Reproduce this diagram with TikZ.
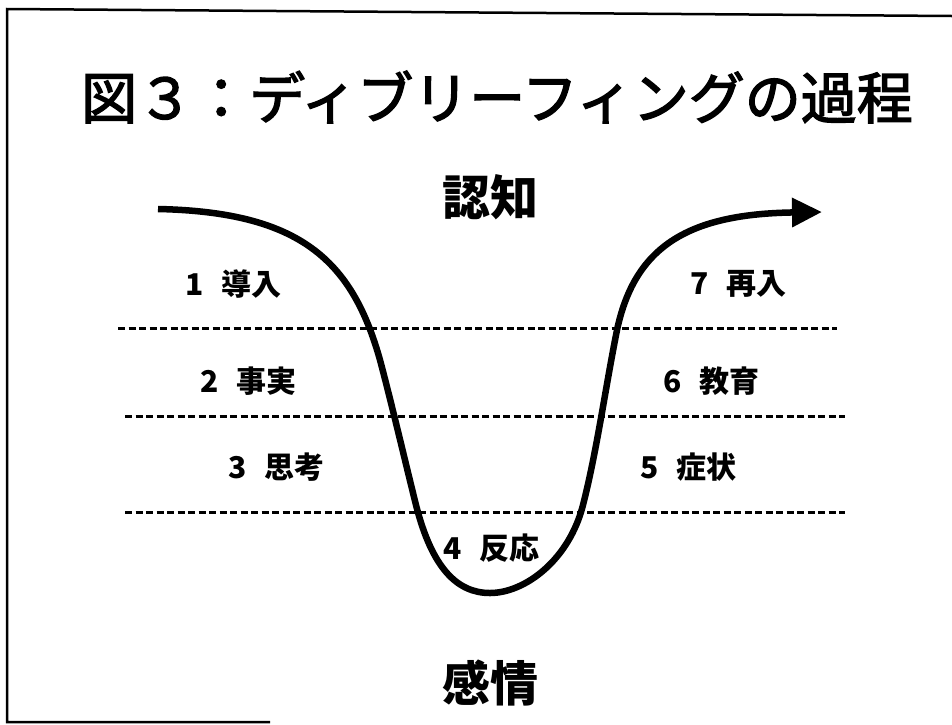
\documentclass[tikz,border=0pt]{standalone}
\usepackage{fontspec}
\newfontfamily\jp{Noto Sans CJK JP}
\newfontfamily\jpt{Noto Sans CJK JP}[FakeBold=2.5]
\usetikzlibrary{arrows.meta}
\tikzset{
  frameline/.style={line width=2.5pt, black},
  sepline/.style={line width=3pt, dash pattern=on 7pt off 3.5pt},
  flow/.style={line width=6.5pt, -{Triangle[length=30pt,width=28pt]}},
  stage/.style={inner sep=0pt, anchor=west, font=\jp\fontsize{30}{30}\selectfont\bfseries},
  axis/.style={inner sep=0pt, font=\jp\fontsize{48}{48}\selectfont\bfseries},
  titletext/.style={inner sep=0pt, font=\jpt\fontsize{56}{56}\selectfont}
}
\newcommand{\stg}[2]{#1\hspace{0.6em}#2}
\begin{document}
\begin{tikzpicture}[x=1pt,y=-1pt]
\useasboundingbox (0,0) rectangle (952,724);
% frame
\coordinate (ftr) at (952,16);
\coordinate (ftl) at (7,9);
\coordinate (fbl) at (7,722);
\coordinate (fbr) at (270,722);
\draw[frameline] (ftr) -- (ftl) -- (fbl) -- (fbr);
% title
\node[titletext] (title) at (497,97) {図３：ディブリーフィングの過程};
% axis labels
\node[axis] (cog) at (490,197) {認知};
\node[axis] (emo) at (490,683) {感情};
% dashed separators
\coordinate (d1l) at (118,328); \coordinate (d1r) at (837,328);
\coordinate (d2l) at (125,416); \coordinate (d2r) at (845,416);
\coordinate (d3l) at (125,512); \coordinate (d3r) at (845,512);
\draw[sepline] (d1l) -- (d1r);
\draw[sepline] (d2l) -- (d2r);
\draw[sepline] (d3l) -- (d3r);
% stage labels
\node[stage] (s1) at (185,284) {\stg{1}{導入}};
\node[stage] (s2) at (200,381) {\stg{2}{事実}};
\node[stage] (s3) at (228,467) {\stg{3}{思考}};
\node[stage] (s4) at (443,548) {\stg{4}{反応}};
\node[stage] (s5) at (640,467) {\stg{5}{症状}};
\node[stage] (s6) at (663,381) {\stg{6}{教育}};
\node[stage] (s7) at (690,284) {\stg{7}{再入}};
% curve
\coordinate (c0) at (158,209);
\coordinate (c1) at (380,360);
\coordinate (c2) at (416,505);
\coordinate (c3) at (490,593);
\coordinate (c4) at (583,505);
\coordinate (c5) at (617,330);
\coordinate (c6) at (822,212);
\draw[flow] (c0) .. controls (300,212) and (352,260) .. (c1)
  .. controls (392,405) and (406,465) .. (c2)
  .. controls (432,568) and (457,593) .. (c3)
  .. controls (525,593) and (569,560) .. (c4)
  .. controls (597,450) and (605,390) .. (c5)
  .. controls (635,245) and (690,214) .. (c6);
\end{tikzpicture}
\end{document}
